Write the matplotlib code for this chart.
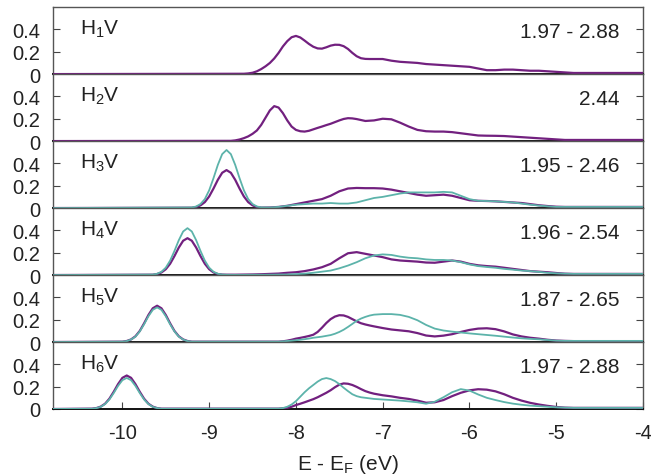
import numpy as np
import matplotlib
matplotlib.use('Agg')
import matplotlib.pyplot as plt

plt.rcParams['font.family'] = ['Liberation Sans', 'DejaVu Sans']
plt.rcParams['mathtext.fontset'] = 'custom'
plt.rcParams['mathtext.rm'] = 'Liberation Sans'
plt.rcParams['mathtext.it'] = 'Liberation Sans:italic'
plt.rcParams['mathtext.default'] = 'regular'

labels = ['H$_1$V', 'H$_2$V', 'H$_3$V', 'H$_4$V', 'H$_5$V', 'H$_6$V']
ranges = ['1.97 - 2.88', '2.44', '1.95 - 2.46', '1.96 - 2.54', '1.87 - 2.65', '1.97 - 2.88']

# each curve: list of (start energy, step)
# the curve is zero from -10.8 eV up to the first segment
h1_purple = [
    (-8.6, 0.05, [0.003, 0.006, 0.012, 0.025, 0.045, 0.07, 0.10, 0.14, 0.19, 0.248,
                  0.295, 0.33, 0.342, 0.328, 0.30, 0.27, 0.245, 0.23, 0.228, 0.24,
                  0.255, 0.263, 0.262, 0.25, 0.225, 0.19, 0.16, 0.142, 0.136, 0.135]),
    (-7.1, 0.1, [0.135, 0.135, 0.12, 0.11, 0.105, 0.10, 0.09, 0.085, 0.08, 0.075,
                 0.07, 0.065, 0.05, 0.035, 0.035, 0.04, 0.04, 0.035, 0.03, 0.03,
                 0.025, 0.02, 0.015, 0.01, 0.01, 0.01, 0.01, 0.01, 0.01, 0.01,
                 0.01, 0.01]),
]
h2_purple = [
    (-8.75, 0.05, [0.002, 0.006, 0.014, 0.026, 0.042, 0.065, 0.095, 0.145, 0.21, 0.275,
                   0.313, 0.30, 0.25, 0.185, 0.13, 0.10, 0.088, 0.085, 0.092, 0.105,
                   0.118, 0.13, 0.143, 0.155, 0.17, 0.185, 0.198, 0.205, 0.203, 0.197]),
    (-7.2, 0.1, [0.18, 0.185, 0.2, 0.195, 0.165, 0.13, 0.10, 0.088, 0.085, 0.085,
                 0.08, 0.07, 0.06, 0.05, 0.048, 0.047, 0.045, 0.04, 0.035, 0.03,
                 0.025, 0.02, 0.015, 0.01, 0.01, 0.01, 0.01, 0.01, 0.01, 0.01,
                 0.01, 0.01, 0.01]),
]
h3_purple = [
    (-9.2, 0.05, [0.003, 0.009, 0.024, 0.053, 0.104, 0.175, 0.253, 0.316, 0.34, 0.316,
                  0.253, 0.175, 0.104, 0.053, 0.024, 0.009, 0.004]),
    (-8.3, 0.1, [0.005, 0.01, 0.02, 0.035, 0.05, 0.065, 0.08, 0.11, 0.15, 0.175,
                 0.18, 0.178, 0.178, 0.175, 0.165, 0.15, 0.135, 0.12, 0.11, 0.115,
                 0.12, 0.11, 0.09, 0.07, 0.065, 0.063, 0.06, 0.055, 0.05, 0.045,
                 0.035, 0.025, 0.018, 0.012, 0.01, 0.01, 0.01, 0.01, 0.01, 0.01,
                 0.01, 0.01, 0.01, 0.01]),
]
h3_teal = [
    (-9.2, 0.05, [0.005, 0.014, 0.036, 0.08, 0.159, 0.268, 0.387, 0.483, 0.52, 0.483,
                  0.387, 0.268, 0.159, 0.08, 0.036, 0.014, 0.006]),
    (-8.3, 0.1, [0.005, 0.01, 0.02, 0.03, 0.035, 0.04, 0.04, 0.045, 0.04, 0.04,
                 0.05, 0.07, 0.09, 0.10, 0.115, 0.13, 0.14, 0.14, 0.14, 0.14,
                 0.145, 0.14, 0.11, 0.08, 0.065, 0.063, 0.06, 0.055, 0.05, 0.04,
                 0.03, 0.022, 0.015, 0.01, 0.01, 0.01, 0.01, 0.01, 0.01, 0.01,
                 0.01, 0.01, 0.01, 0.01]),
]
h4_purple = [
    (-9.65, 0.05, [0.003, 0.009, 0.023, 0.052, 0.101, 0.17, 0.246, 0.307, 0.33, 0.307,
                   0.246, 0.17, 0.101, 0.052, 0.023, 0.009, 0.004]),
    (-8.8, 0.1, [0.003, 0.003, 0.004, 0.005, 0.007, 0.01, 0.013, 0.02, 0.025, 0.035,
                 0.05, 0.07, 0.10, 0.15, 0.195, 0.205, 0.19, 0.175, 0.16, 0.14,
                 0.13, 0.125, 0.12, 0.112, 0.11, 0.12, 0.13, 0.12, 0.10, 0.087,
                 0.08, 0.075, 0.065, 0.055, 0.045, 0.035, 0.03, 0.025, 0.018, 0.012,
                 0.01, 0.01, 0.01, 0.01, 0.01, 0.01, 0.01, 0.01, 0.01]),
]
h4_teal = [
    (-9.65, 0.05, [0.004, 0.011, 0.029, 0.066, 0.129, 0.216, 0.312, 0.39, 0.42, 0.39,
                   0.312, 0.216, 0.129, 0.066, 0.029, 0.011, 0.004]),
    (-8.8, 0.1, [0.002, 0.001, 0.001, 0.002, 0.002, 0.003, 0.004, 0.005, 0.008, 0.012,
                 0.02, 0.03, 0.04, 0.06, 0.085, 0.115, 0.15, 0.175, 0.185, 0.18,
                 0.165, 0.155, 0.15, 0.14, 0.135, 0.135, 0.13, 0.115, 0.095, 0.08,
                 0.072, 0.065, 0.055, 0.048, 0.04, 0.035, 0.028, 0.02, 0.015, 0.012,
                 0.01, 0.01, 0.01, 0.01, 0.01, 0.01, 0.01, 0.01, 0.01]),
]
h5_purple = [
    (-10.0, 0.05, [0.003, 0.009, 0.023, 0.051, 0.099, 0.167, 0.242, 0.302, 0.325, 0.302,
                   0.242, 0.167, 0.099, 0.051, 0.023, 0.009, 0.003]),
    (-8.2, 0.05, [0.003, 0.006, 0.012, 0.02, 0.03, 0.037, 0.045, 0.054, 0.065, 0.09,
                  0.128, 0.17, 0.205, 0.228, 0.24, 0.238, 0.225, 0.205, 0.185, 0.168,
                  0.157, 0.148]),
    (-7.1, 0.1, [0.14, 0.125, 0.112, 0.104, 0.096, 0.08, 0.058, 0.05, 0.057, 0.07,
                 0.09, 0.108, 0.12, 0.123, 0.115, 0.095, 0.068, 0.05, 0.038, 0.03,
                 0.02, 0.013, 0.01, 0.008, 0.008, 0.008, 0.008, 0.008, 0.008, 0.008,
                 0.008, 0.008]),
]
h5_teal = [
    (-10.0, 0.05, [0.003, 0.008, 0.022, 0.048, 0.095, 0.159, 0.231, 0.288, 0.31, 0.288,
                   0.231, 0.159, 0.095, 0.048, 0.022, 0.008, 0.003]),
    (-8.2, 0.05, [0.003, 0.006, 0.009, 0.012, 0.016, 0.02, 0.025, 0.031, 0.038, 0.043,
                  0.048, 0.055, 0.062, 0.074, 0.09, 0.11, 0.135, 0.162, 0.19, 0.21,
                  0.225, 0.237]),
    (-7.1, 0.1, [0.245, 0.25, 0.25, 0.243, 0.225, 0.195, 0.153, 0.12, 0.103, 0.093,
                 0.085, 0.077, 0.07, 0.063, 0.056, 0.048, 0.04, 0.033, 0.028, 0.024,
                 0.018, 0.012, 0.01, 0.01, 0.01, 0.01, 0.01, 0.01, 0.01, 0.01,
                 0.01, 0.01]),
]
h6_purple = [
    (-10.35, 0.05, [0.003, 0.008, 0.021, 0.047, 0.092, 0.154, 0.223, 0.279, 0.30, 0.279,
                    0.223, 0.154, 0.092, 0.047, 0.021, 0.008, 0.003]),
    (-8.2, 0.05, [0.003, 0.006, 0.01, 0.02, 0.035, 0.047, 0.06, 0.074, 0.088, 0.105,
                  0.125, 0.145, 0.168, 0.195, 0.218, 0.229, 0.226, 0.215, 0.198, 0.178,
                  0.16, 0.147]),
    (-7.1, 0.1, [0.137, 0.123, 0.113, 0.10, 0.09, 0.075, 0.056, 0.06, 0.08, 0.115,
                 0.145, 0.167, 0.177, 0.173, 0.158, 0.132, 0.10, 0.075, 0.055, 0.04,
                 0.028, 0.018, 0.012, 0.01, 0.01, 0.01, 0.01, 0.01, 0.01, 0.01,
                 0.01, 0.01]),
]
h6_teal = [
    (-10.35, 0.05, [0.002, 0.008, 0.019, 0.044, 0.085, 0.143, 0.207, 0.258, 0.278, 0.258,
                    0.207, 0.143, 0.085, 0.044, 0.019, 0.008, 0.002]),
    (-8.2, 0.05, [0.003, 0.008, 0.02, 0.04, 0.07, 0.11, 0.15, 0.185, 0.215, 0.245,
                  0.268, 0.277, 0.268, 0.25, 0.223, 0.19, 0.16, 0.132, 0.115, 0.105,
                  0.10, 0.095]),
    (-7.1, 0.1, [0.09, 0.085, 0.08, 0.075, 0.068, 0.06, 0.047, 0.065, 0.105, 0.15,
                 0.178, 0.165, 0.13, 0.10, 0.08, 0.062, 0.048, 0.038, 0.03, 0.025,
                 0.02, 0.015, 0.012, 0.01, 0.01, 0.01, 0.01, 0.01, 0.01, 0.01,
                 0.01, 0.01]),
]

purple_curves = [h1_purple, h2_purple, h3_purple, h4_purple, h5_purple, h6_purple]
teal_curves = [None, None, h3_teal, h4_teal, h5_teal, h6_teal]

purple = '#72207f'
teal = '#5cb3aa'


def to_xy(segments):
    x, y = [-10.8], [0.0]
    for start, step, vals in segments:
        for k, v in enumerate(vals):
            x.append(round(start + k * step, 3))
            y.append(v)
    return np.array(x), np.array(y)


fig, axes = plt.subplots(6, 1, sharex=True, figsize=(6.51, 4.77), dpi=100)
fig.subplots_adjust(left=0.0814, right=0.9877, top=0.983, bottom=0.1405, hspace=0)

for i, ax in enumerate(axes):
    ex, ey = to_xy(purple_curves[i])
    ax.plot(ex, ey, color=purple, lw=1.6, zorder=3, solid_joinstyle='round')
    if teal_curves[i] is not None:
        ex, ey = to_xy(teal_curves[i])
        ax.plot(ex, ey, color=teal, lw=1.3, zorder=4, solid_joinstyle='round')
    ax.set_xlim(-10.8, -4.0)
    ax.set_ylim(0, 0.6)
    ax.set_yticks([0, 0.2, 0.4])
    ax.set_yticklabels(['0', '0.2', '0.4'])
    ax.tick_params(axis='y', direction='in', right=True, length=5, width=0.8,
                   color='#444444', labelsize=14.5, pad=9, labelcolor='#222222')
    ax.tick_params(axis='x', direction='in', length=5, width=0.8, color='#444444',
                   labelsize=14.5, labelcolor='#222222', pad=10)
    for s in ax.spines.values():
        s.set_color('#555555')
        s.set_linewidth(1.0)
    ax.spines['bottom'].set_color('#111111')
    ax.spines['bottom'].set_linewidth(1.4)
    ax.text(0.046, 0.68, labels[i], transform=ax.transAxes, fontsize=15,
            ha='left', va='center', color='#222222')
    ax.text(0.961, 0.64, ranges[i], transform=ax.transAxes, fontsize=15,
            ha='right', va='center', color='#222222')
    if i < 5:
        ax.tick_params(axis='x', bottom=False)

axes[-1].set_xticks([-10, -9, -8, -7, -6, -5, -4])
axes[-1].set_xticklabels(['-10', '-9', '-8', '-7', '-6', '-5', '-4'])
axes[-1].set_xlabel('E - E$_F$ (eV)', fontsize=15, color='#222222', labelpad=7)

fig.savefig('out.png', dpi=100)
